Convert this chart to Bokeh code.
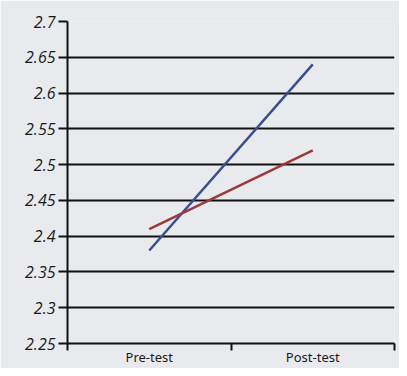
from bokeh.plotting import figure
from bokeh.models import FixedTicker, LinearAxis, Range1d
from bokeh.embed import file_html
from bokeh.resources import INLINE

categories = ["Pre-test", "Post-test"]
series_blue = [2.38, 2.64]
series_red = [2.41, 2.52]
y_ticks = [2.25, 2.3, 2.35, 2.4, 2.45, 2.5, 2.55, 2.6, 2.65, 2.7]
y_tick_labels = ["2.25", "2.3", "2.35", "2.4", "2.45", "2.5", "2.55", "2.6", "2.65", "2.7"]

xs = [i + 0.5 for i in range(len(categories))]

BG = "#e9eaee"

p = figure(width=399, height=368, output_backend="svg", toolbar_location=None,
           x_range=Range1d(0, len(categories)), y_range=Range1d(2.25, 2.7),
           x_axis_location=None, y_axis_location=None)
p.min_border_left = 67
p.min_border_right = 5
p.min_border_top = 21
p.min_border_bottom = 24
p.background_fill_color = BG
p.border_fill_color = BG
p.outline_line_color = None

# y axis
ya = LinearAxis(ticker=FixedTicker(ticks=y_ticks))
ya.major_label_overrides = {t: l for t, l in zip(y_ticks, y_tick_labels)}
ya.axis_line_color = "#111111"
ya.axis_line_width = 2
ya.major_tick_line_color = "#111111"
ya.major_tick_line_width = 2
ya.major_tick_out = 9
ya.major_tick_in = 0
ya.minor_tick_line_color = None
ya.major_label_text_font = "Open Sans"
ya.major_label_text_font_style = "italic"
ya.major_label_text_font_size = "16px"
ya.major_label_text_color = "#1a1a1a"
ya.major_label_standoff = 3
p.add_layout(ya, "left")

# x axis
xa = LinearAxis(ticker=FixedTicker(ticks=xs, minor_ticks=list(range(len(categories) + 1))))
xa.major_label_overrides = {x: c for x, c in zip(xs, categories)}
xa.axis_line_color = "#111111"
xa.axis_line_width = 2
xa.major_tick_line_color = None
xa.major_tick_out = 0
xa.major_tick_in = 0
xa.minor_tick_line_color = "#111111"
xa.minor_tick_line_width = 2
xa.minor_tick_out = 7
xa.minor_tick_in = 0
xa.major_label_text_font = "Noto Sans"
xa.major_label_text_font_size = "13px"
xa.major_label_text_color = "#1a1a1a"
xa.major_label_standoff = -3
p.add_layout(xa, "below")

p.xgrid.visible = False
p.ygrid.ticker = FixedTicker(ticks=y_ticks)
p.ygrid.grid_line_color = "#111111"
p.ygrid.grid_line_width = 2

p.line(xs, series_blue, line_color="#3b4f8f", line_width=2.5)
p.line(xs, series_red, line_color="#9a3a3c", line_width=2.5)

open("out.html", "w").write(file_html(p, INLINE))
